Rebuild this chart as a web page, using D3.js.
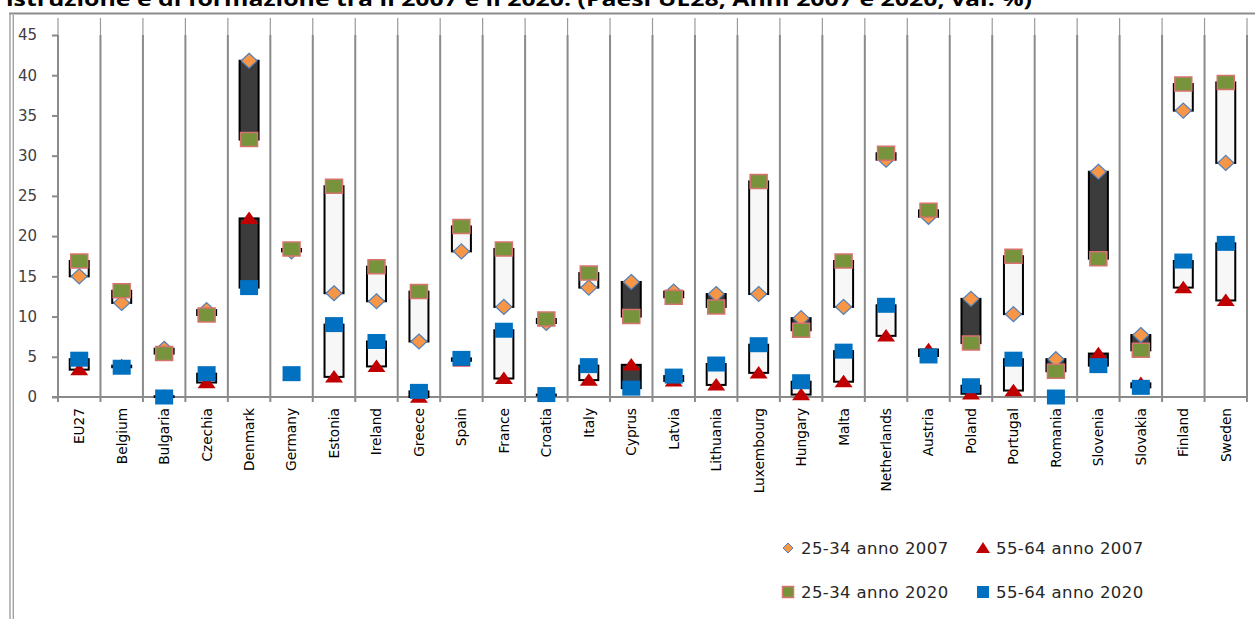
<!DOCTYPE html>
<html><head><meta charset="utf-8">
<script src="https://cdn.jsdelivr.net/npm/d3@7"></script>
<style>
html,body{margin:0;padding:0;background:#fff;overflow:hidden;}
svg{display:block;}
</style></head>
<body>
<svg id="c" width="1255" height="619"></svg>
<script>
const categories = ["EU27","Belgium","Bulgaria","Czechia","Denmark","Germany","Estonia","Ireland","Greece","Spain","France","Croatia","Italy","Cyprus","Latvia","Lithuania","Luxembourg","Hungary","Malta","Netherlands","Austria","Poland","Portugal","Romania","Slovenia","Slovakia","Finland","Sweden"];
const young2007 = [15.0,11.7,6.0,10.8,41.8,18.1,12.9,11.9,6.9,18.1,11.2,9.2,13.6,14.3,13.1,12.8,12.8,9.8,11.2,29.5,22.4,12.2,10.3,4.7,28.0,7.7,35.6,29.1];
const old2007   = [3.4,3.9,0.1,1.8,22.2,2.9,2.5,3.8,0.0,4.5,2.3,0.2,2.1,4.0,2.0,1.5,3.0,0.3,1.9,7.6,5.9,0.4,0.8,0.0,5.4,1.7,13.6,12.0];
const young2020 = [16.9,13.2,5.4,10.2,32.0,18.4,26.2,16.2,13.1,21.2,18.4,9.7,15.4,10.0,12.4,11.2,26.8,8.3,16.9,30.3,23.2,6.7,17.5,3.2,17.2,5.8,38.9,39.1];
const old2020   = [4.7,3.7,0.0,2.9,13.6,2.9,9.0,6.9,0.7,4.8,8.3,0.3,3.9,1.1,2.6,4.1,6.5,1.9,5.7,11.4,5.1,1.4,4.7,0.0,3.9,1.2,16.9,19.1];
const yTicks = [0,5,10,15,20,25,30,35,40,45];
const legendLabels = ["25-34 anno 2007","55-64 anno 2007","25-34 anno 2020","55-64 anno 2020"];
const titleText = "istruzione e di formazione tra il 2007 e il 2020. (Paesi UE28, Anni 2007 e 2020, val. %)";

const svg = d3.select("#c");
const x = d3.scaleBand().domain(categories).range([58,1247]).padding(0);
const y = d3.scaleLinear().domain([0,45]).range([397,35]);
const cx = c => x(c) + x.bandwidth()/2;
const GRID = "#8a8a8a";
const FONT = "'DejaVu Sans', sans-serif";

// title (clipped at top)
svg.append("text").attr("x",6).attr("y",5.5)
  .attr("font-family","'Open Sans', sans-serif").attr("font-weight","bold").attr("font-size",20)
  .attr("textLength",1026).attr("lengthAdjust","spacingAndGlyphs")
  .attr("fill","#000").text(titleText);

// frame
svg.append("line").attr("x1",9).attr("x2",1255).attr("y1",13.5).attr("y2",13.5).attr("stroke","#8c8c8c").attr("stroke-width",2);
svg.append("line").attr("x1",10).attr("x2",10).attr("y1",13).attr("y2",619).attr("stroke","#9a9a9a").attr("stroke-width",1.3);
svg.append("line").attr("x1",13.3).attr("x2",13.3).attr("y1",15).attr("y2",619).attr("stroke","#9a9a9a").attr("stroke-width",1.3);

// vertical category gridlines (boundaries) + y axis
const bounds = categories.map(c => x(c)).concat([x.range()[1]]);
const g = svg.append("g");
g.selectAll("line.gt").data(bounds).join("line").attr("class","gt")
  .attr("x1",d=>d).attr("x2",d=>d).attr("y1",18).attr("y2",35)
  .attr("stroke","#9a9a9a").attr("stroke-width",1.2);
g.selectAll("line.gb").data(bounds).join("line").attr("class","gb")
  .attr("x1",d=>d).attr("x2",d=>d).attr("y1",35).attr("y2",402)
  .attr("stroke",GRID).attr("stroke-width",2);

// y axis ticks and labels
const yAxis = d3.axisLeft(y).tickValues(yTicks).tickSize(6).tickPadding(15).tickFormat(d3.format("d"));
const ya = svg.append("g").attr("transform","translate(58,0)").call(yAxis);
ya.select(".domain").remove();
ya.selectAll(".tick line").attr("stroke",GRID).attr("stroke-width",2);
ya.selectAll(".tick text").attr("font-family",FONT).attr("font-size",15).attr("fill","#404040");

// x axis line
svg.append("line").attr("x1",52).attr("x2",1247).attr("y1",397).attr("y2",397).attr("stroke",GRID).attr("stroke-width",2);

// x labels
svg.append("g").selectAll("text").data(categories).join("text")
  .attr("transform",d=>`translate(${cx(d)},408) rotate(-90)`)
  .attr("text-anchor","end").attr("dy","0.36em")
  .attr("font-family",FONT).attr("font-size",13.7).attr("fill","#000")
  .text(d=>d);

// up-down bars
const BW = 19;
function bars(openV, closeV){
  svg.append("g").selectAll("rect").data(categories).join("rect")
    .attr("x",(d)=>cx(d)-BW/2)
    .attr("y",(d,i)=>y(Math.max(openV[i],closeV[i])))
    .attr("width",BW)
    .attr("height",(d,i)=>Math.abs(y(openV[i])-y(closeV[i])))
    .attr("fill",(d,i)=> closeV[i] >= openV[i] ? "#f7f7f7" : "#3c3c3c")
    .attr("stroke","#000").attr("stroke-width",2);
}
bars(young2007, young2020);
bars(old2007, old2020);

// marker shapes
const diamondPath = (w,h)=>`M0,${-h}L${w},0L0,${h}L${-w},0Z`;
const triPath = (w,h)=>`M0,${-h*0.55}L${w},${h*0.45}L${-w},${h*0.45}Z`;
const rectPath = (w,h)=>`M${-w},${-h}H${w}V${h}H${-w}Z`;

function markers(vals, path, fill, stroke, sw){
  svg.append("g").selectAll("path").data(categories).join("path")
    .attr("transform",(d,i)=>`translate(${cx(d)},${y(vals[i])})`)
    .attr("d",path).attr("fill",fill)
    .attr("stroke",stroke||"none").attr("stroke-width",sw||0);
}
markers(young2007, diamondPath(8,7.5), "#f79646", "#4f81bd", 1.2);
markers(old2007, triPath(9,12.5), "#c00000");
markers(young2020, rectPath(8.5,7), "#77933c", "#d7736f", 1.5);
markers(old2020, rectPath(9,7.5), "#0070c0");

// legend
const legX = [788, 983], legY = [548, 592];
const legItems = [
  {p:diamondPath(5,5), f:"#f79646", s:"#4f81bd", sw:1},
  {p:triPath(7,11), f:"#c00000"},
  {p:rectPath(5.5,5.5), f:"#77933c", s:"#d7736f", sw:1.5},
  {p:rectPath(6,6), f:"#0070c0"}
];
const lg = svg.append("g");
legendLabels.forEach((lab,i)=>{
  const lx = legX[i%2], ly = legY[Math.floor(i/2)];
  const it = legItems[i];
  lg.append("path").attr("transform",`translate(${lx},${ly})`).attr("d",it.p)
    .attr("fill",it.f).attr("stroke",it.s||"none").attr("stroke-width",it.sw||0);
  lg.append("text").attr("x",lx+13).attr("y",ly).attr("dy","0.36em")
    .attr("font-family",FONT).attr("font-size",16.5).attr("letter-spacing",0.4)
    .attr("fill","#262626").text(lab);
});
</script>
</body></html>
